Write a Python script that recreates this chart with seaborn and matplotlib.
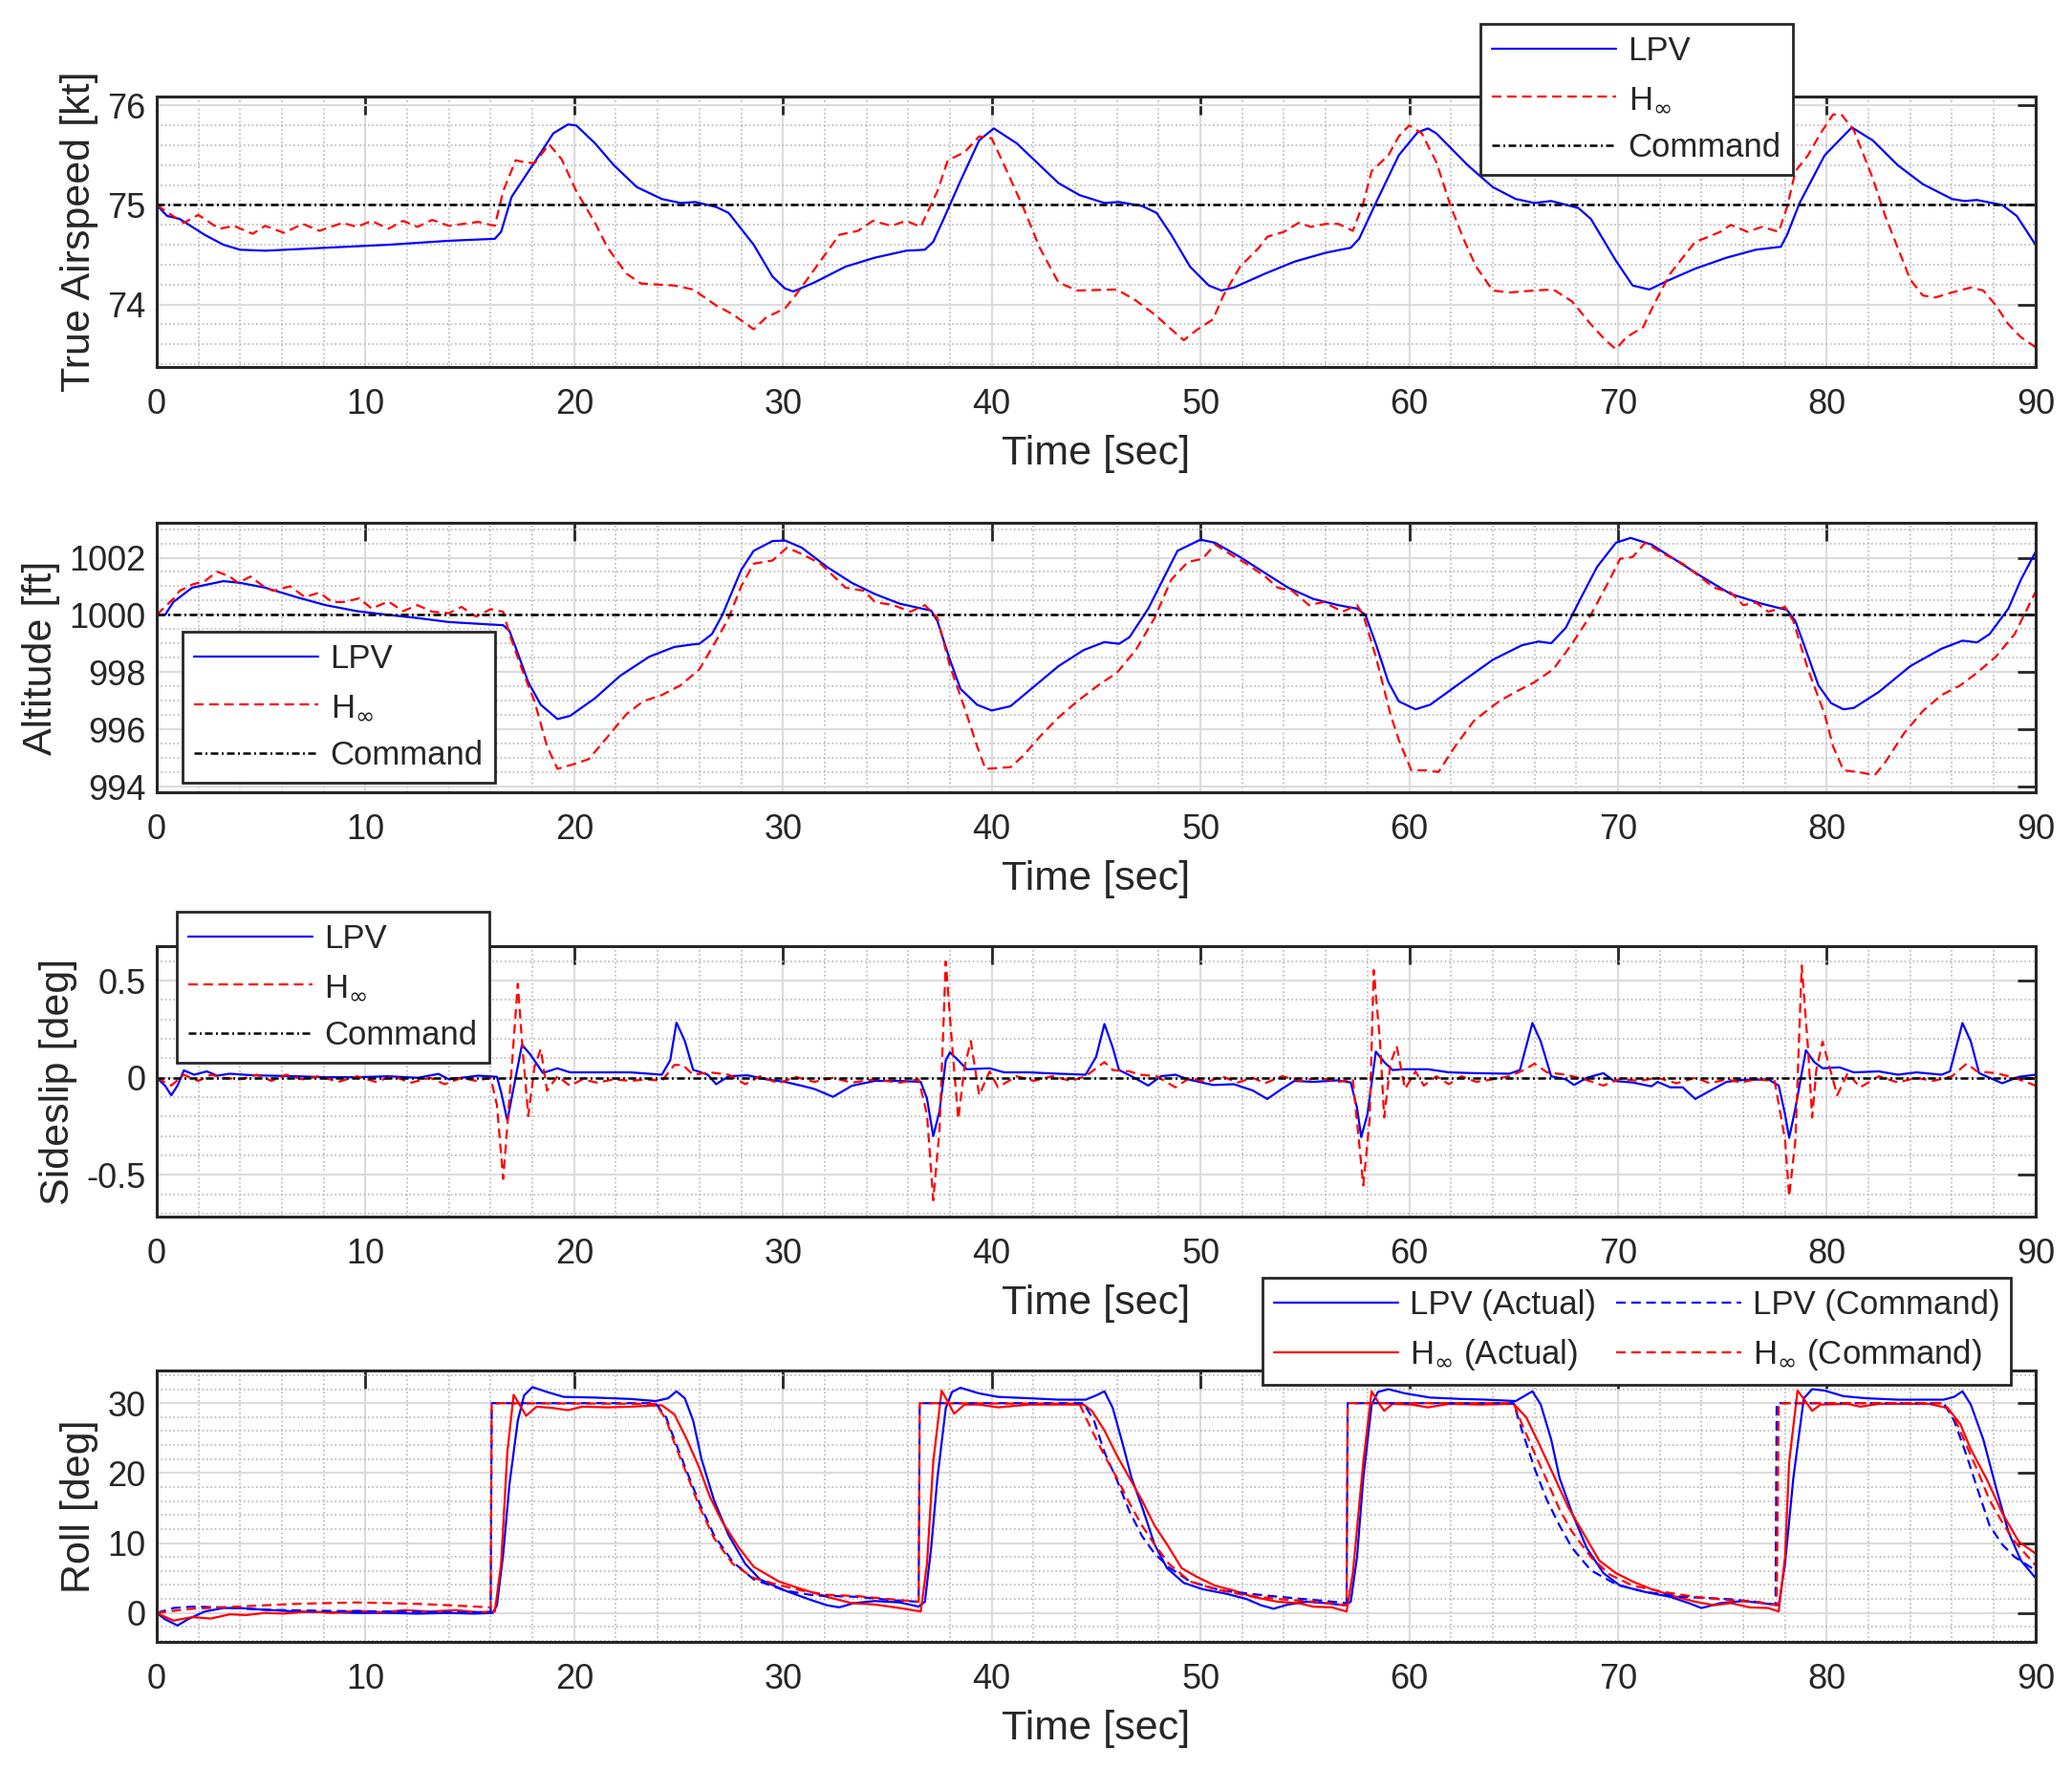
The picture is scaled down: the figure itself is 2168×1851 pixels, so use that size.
import seaborn as sns
import matplotlib.pyplot as plt
import matplotlib.ticker as mticker
import pandas as pd

OUTPUT_FILE_NAME = "out.png"

TIME_TICKS = list(range(0, 91, 10))
HINF = r"H$_{\infty}$"

### Data (time [s], value) ###
# True airspeed [kt]
TAS_COMMAND = [(0, 75.0), (90, 75.0)]
TAS_LPV = [
    (0, 75.0), (0.5, 74.89), (1.1, 74.86), (2.3, 74.70), (3.2, 74.60), (4.0, 74.55), (5.2, 74.54),
    (8.1, 74.57), (11.1, 74.60), (14.0, 74.64), (16.2, 74.66), (16.5, 74.73), (17.0, 75.08),
    (18.1, 75.43), (19.0, 75.72), (19.7, 75.81), (20.1, 75.80), (21.0, 75.62), (21.9, 75.40),
    (23.0, 75.18), (24.2, 75.06), (25.1, 75.02), (25.8, 75.03), (26.8, 74.98), (27.4, 74.92),
    (28.6, 74.60), (29.5, 74.28), (30.1, 74.16), (30.5, 74.13), (31.5, 74.22), (33.0, 74.38),
    (34.4, 74.47), (35.9, 74.54), (36.8, 74.55), (37.2, 74.63), (37.7, 74.86), (38.5, 75.24),
    (39.4, 75.65), (40.1, 75.77), (41.2, 75.62), (42.3, 75.40), (43.2, 75.22), (44.2, 75.10),
    (45.4, 75.02), (46.1, 75.03), (47.2, 74.99), (47.9, 74.92), (48.6, 74.70), (49.5, 74.38),
    (50.4, 74.19), (51.0, 74.14), (51.6, 74.17), (53.1, 74.31), (54.5, 74.43), (56.0, 74.52),
    (57.2, 74.57), (57.6, 74.66), (58.4, 75.02), (59.5, 75.50), (60.4, 75.73), (60.9, 75.77),
    (61.3, 75.72), (62.8, 75.40), (64.0, 75.18), (65.1, 75.06), (66.0, 75.02), (66.8, 75.04),
    (68.1, 74.97), (68.7, 74.86), (69.9, 74.44), (70.7, 74.19), (71.5, 74.15), (72.5, 74.25),
    (73.7, 74.36), (75.2, 74.47), (76.6, 74.55), (77.8, 74.58), (78.1, 74.70), (78.7, 75.02),
    (79.9, 75.50), (81.2, 75.78), (82.2, 75.65), (83.4, 75.40), (84.6, 75.21), (86.0, 75.06),
    (86.6, 75.04), (87.2, 75.05), (88.4, 75.00), (89.1, 74.89), (90.0, 74.60),
]
TAS_HINF = [
    (0, 75.0), (0.7, 74.90), (1.3, 74.82), (2.0, 74.90), (3.0, 74.76), (3.7, 74.79), (4.6, 74.71),
    (5.2, 74.79), (6.1, 74.72), (7.0, 74.81), (7.8, 74.74), (8.9, 74.82), (9.6, 74.78), (10.3, 74.84),
    (11.1, 74.76), (11.8, 74.84), (12.5, 74.78), (13.2, 74.85), (14.0, 74.79), (15.4, 74.83),
    (16.2, 74.79), (16.6, 75.14), (17.2, 75.45), (17.6, 75.43), (18.1, 75.42), (18.8, 75.61),
    (19.4, 75.46), (20.1, 75.14), (21.0, 74.82), (21.6, 74.57), (22.5, 74.31), (23.2, 74.21),
    (24.8, 74.19), (25.7, 74.15), (26.8, 73.99), (27.6, 73.90), (28.6, 73.75), (29.2, 73.87),
    (30.1, 73.96), (30.6, 74.09), (31.5, 74.35), (32.7, 74.70), (33.6, 74.74), (34.3, 74.84),
    (35.2, 74.79), (35.9, 74.84), (36.6, 74.78), (37.4, 75.14), (37.9, 75.45), (38.7, 75.53),
    (39.4, 75.69), (40.0, 75.67), (40.6, 75.40), (41.5, 74.98), (42.3, 74.57), (43.2, 74.22),
    (44.1, 74.14), (46.0, 74.15), (46.9, 74.04), (47.8, 73.90), (48.6, 73.75), (49.2, 73.64),
    (49.8, 73.74), (50.6, 73.85), (51.1, 74.09), (51.9, 74.38), (52.8, 74.57), (53.2, 74.68),
    (54.0, 74.73), (54.7, 74.82), (55.3, 74.78), (56.0, 74.81), (56.6, 74.81), (57.3, 74.74),
    (57.8, 75.02), (58.2, 75.34), (59.0, 75.50), (59.5, 75.69), (60.0, 75.80), (60.6, 75.72),
    (61.3, 75.43), (62.0, 74.98), (62.6, 74.66), (63.2, 74.38), (64.0, 74.14), (64.8, 74.12),
    (66.0, 74.14), (66.9, 74.15), (67.8, 74.03), (68.7, 73.80), (69.4, 73.64), (69.9, 73.55),
    (70.4, 73.67), (71.2, 73.77), (71.7, 73.99), (72.5, 74.31), (73.7, 74.63), (74.1, 74.66),
    (74.9, 74.73), (75.4, 74.80), (76.2, 74.73), (76.9, 74.78), (77.7, 74.73), (78.1, 74.98),
    (78.5, 75.34), (79.1, 75.50), (79.7, 75.72), (80.3, 75.91), (80.7, 75.91), (81.3, 75.75),
    (82.2, 75.27), (82.8, 74.89), (83.4, 74.57), (84.0, 74.25), (84.6, 74.09), (85.2, 74.07),
    (86.0, 74.12), (86.9, 74.17), (87.5, 74.14), (88.1, 73.99), (88.7, 73.80), (89.3, 73.67),
    (90.0, 73.57),
]

# Altitude [ft]
ALT_COMMAND = [(0, 1000.0), (90, 1000.0)]
ALT_LPV = [
    (0, 1000.0), (0.4, 1000.0), (0.8, 1000.45), (1.7, 1000.95), (3.2, 1001.18), (4.0, 1001.12),
    (5.2, 1000.95), (6.7, 1000.62), (8.1, 1000.34), (9.6, 1000.13), (11.1, 1000.0), (12.5, 999.89),
    (14.0, 999.75), (15.4, 999.69), (16.6, 999.64), (16.9, 999.44), (17.3, 998.66), (17.8, 997.65),
    (18.4, 996.86), (19.2, 996.36), (19.8, 996.47), (21.0, 997.09), (22.2, 997.87), (23.6, 998.54),
    (24.8, 998.88), (25.7, 998.97), (26.0, 998.99), (26.6, 999.33), (27.1, 1000.0), (28.0, 1001.57),
    (28.6, 1002.24), (29.5, 1002.58), (30.1, 1002.6), (30.9, 1002.35), (32.1, 1001.68),
    (33.3, 1001.12), (34.4, 1000.73), (35.6, 1000.39), (37.1, 1000.15), (37.4, 999.78),
    (38.0, 998.43), (38.5, 997.42), (39.3, 996.86), (40.0, 996.66), (40.9, 996.81), (42.1, 997.54),
    (43.2, 998.21), (44.4, 998.77), (45.4, 999.05), (46.1, 998.99), (46.6, 999.22), (47.5, 1000.22),
    (48.2, 1001.23), (48.9, 1002.24), (50.0, 1002.63), (50.7, 1002.52), (51.9, 1002.02),
    (53.1, 1001.46), (54.2, 1000.95), (55.4, 1000.56), (56.6, 1000.34), (57.5, 1000.22),
    (57.9, 1000.0), (58.4, 998.99), (59.0, 997.65), (59.5, 996.98), (60.3, 996.7), (61.0, 996.86),
    (62.5, 997.65), (64.0, 998.43), (65.4, 998.94), (66.2, 999.07), (66.8, 999.01), (67.5, 999.55),
    (68.2, 1000.56), (69.0, 1001.68), (69.9, 1002.52), (70.6, 1002.69), (71.6, 1002.46),
    (72.8, 1001.9), (74.0, 1001.34), (75.4, 1000.73), (76.9, 1000.39), (78.1, 1000.17),
    (78.5, 999.78), (79.0, 998.77), (79.6, 997.54), (80.2, 996.92), (80.8, 996.7), (81.3, 996.75),
    (82.5, 997.31), (84.0, 998.21), (85.5, 998.82), (86.5, 999.1), (87.2, 999.04), (87.8, 999.33),
    (88.7, 1000.22), (89.3, 1001.23), (90.0, 1002.2),
]
ALT_HINF = [
    (0, 1000.0), (0.8, 1000.56), (1.1, 1000.84), (1.7, 1001.06), (2.3, 1001.18), (2.9, 1001.51),
    (3.5, 1001.34), (3.9, 1001.12), (4.5, 1001.34), (5.2, 1000.95), (5.6, 1000.84), (6.4, 1001.0),
    (7.1, 1000.62), (7.8, 1000.78), (8.4, 1000.45), (9.0, 1000.45), (9.7, 1000.58), (10.3, 1000.22),
    (11.1, 1000.47), (11.8, 1000.13), (12.5, 1000.34), (13.2, 1000.11), (14.0, 1000.06),
    (14.6, 1000.28), (15.3, 999.94), (16.0, 1000.2), (16.6, 1000.11), (16.9, 999.33), (17.5, 998.1),
    (18.1, 996.98), (18.7, 995.41), (19.2, 994.62), (20.0, 994.79), (20.7, 994.96), (21.6, 995.74),
    (22.5, 996.53), (23.3, 996.98), (24.2, 997.2), (25.1, 997.54), (26.0, 998.1), (26.8, 999.1),
    (27.4, 999.89), (28.0, 1001.0), (28.6, 1001.79), (29.5, 1001.9), (30.2, 1002.35),
    (30.9, 1002.13), (31.8, 1001.79), (33.0, 1000.95), (33.9, 1000.84), (34.4, 1000.45),
    (35.3, 1000.34), (36.1, 1000.11), (36.8, 1000.34), (37.4, 999.89), (38.0, 998.21),
    (38.7, 996.75), (39.3, 995.41), (39.7, 994.62), (40.9, 994.68), (41.5, 995.07), (42.3, 995.74),
    (43.2, 996.42), (44.1, 996.98), (45.1, 997.54), (46.0, 997.98), (46.9, 998.77), (47.8, 999.89),
    (48.6, 1001.23), (49.4, 1001.85), (50.1, 1001.96), (50.7, 1002.46), (51.4, 1002.13),
    (52.2, 1001.79), (53.1, 1001.34), (53.7, 1000.95), (54.4, 1000.84), (55.2, 1000.34),
    (55.9, 1000.45), (56.8, 1000.11), (57.5, 1000.34), (57.8, 1000.0), (58.4, 998.54),
    (59.1, 996.53), (59.5, 995.63), (60.1, 994.57), (60.8, 994.57), (61.4, 994.51), (62.2, 995.41),
    (63.1, 996.3), (64.3, 996.98), (65.1, 997.31), (66.0, 997.65), (66.9, 998.1), (67.8, 998.99),
    (68.7, 1000.0), (69.6, 1001.23), (70.1, 1001.96), (70.7, 1002.02), (71.3, 1002.52),
    (72.2, 1002.13), (73.1, 1001.79), (74.0, 1001.29), (74.6, 1000.95), (75.4, 1000.78),
    (76.0, 1000.34), (76.6, 1000.43), (77.2, 1000.11), (78.0, 1000.28), (78.4, 999.78),
    (79.1, 998.1), (79.9, 996.53), (80.3, 995.41), (80.8, 994.57), (81.5, 994.51), (82.3, 994.4),
    (82.8, 994.85), (83.7, 995.86), (84.6, 996.64), (85.5, 997.2), (86.4, 997.54), (87.2, 997.98),
    (88.1, 998.54), (89.0, 999.33), (90.0, 1000.8),
]

# Sideslip [deg]
BETA_COMMAND = [(0, 0.0), (90, 0.0)]
BETA_LPV = [
    (0, 0.0), (0.4, -0.04), (0.7, -0.09), (1.0, -0.04), (1.3, 0.038), (1.8, 0.016), (2.4, 0.033),
    (2.9, 0.011), (3.5, 0.021), (4.6, 0.013), (6.7, 0.008), (8.1, 0.003), (9.6, 0.003), (11.1, 0.008),
    (12.5, 0.0), (13.5, 0.02), (14.0, -0.008), (15.4, 0.011), (16.3, 0.005), (16.5, -0.074),
    (16.8, -0.22), (17.0, -0.107), (17.5, 0.17), (17.9, 0.12), (18.5, 0.025), (19.2, 0.049),
    (19.8, 0.028), (21.3, 0.028), (22.7, 0.028), (24.2, 0.016), (24.6, 0.09), (24.9, 0.284),
    (25.3, 0.19), (25.7, 0.041), (26.4, 0.016), (26.8, -0.033), (27.4, 0.008), (28.3, 0.013),
    (29.2, -0.008), (30.1, -0.021), (30.9, -0.041), (31.5, -0.057), (32.4, -0.098), (33.3, -0.041),
    (34.4, -0.016), (35.6, -0.016), (36.6, -0.021), (36.9, -0.107), (37.2, -0.30), (37.5, -0.172),
    (37.8, 0.09), (38.0, 0.131), (38.4, 0.09), (38.8, 0.044), (39.9, 0.049), (40.6, 0.028),
    (41.8, 0.028), (43.2, 0.021), (44.5, 0.016), (45.0, 0.107), (45.4, 0.277), (45.8, 0.155),
    (46.1, 0.04), (46.7, 0.008), (47.5, -0.04), (48.1, 0.008), (48.8, 0.016), (49.4, -0.008),
    (50.6, -0.037), (51.6, -0.033), (52.5, -0.065), (53.2, -0.109), (53.9, -0.057), (54.5, -0.016),
    (55.4, -0.021), (56.6, -0.013), (57.2, -0.024), (57.5, -0.155), (57.7, -0.305), (58.0, -0.187),
    (58.4, 0.135), (58.8, 0.081), (59.2, 0.04), (59.8, 0.044), (60.9, 0.044), (61.9, 0.028),
    (63.1, 0.024), (64.8, 0.021), (65.3, 0.04), (65.9, 0.282), (66.3, 0.187), (66.8, 0.008),
    (67.5, -0.008), (67.9, -0.037), (68.5, 0.0), (69.3, 0.024), (69.8, -0.016), (70.7, -0.024),
    (71.6, -0.044), (71.9, -0.021), (72.5, -0.049), (73.1, -0.049), (73.7, -0.109), (74.3, -0.073),
    (75.2, -0.021), (76.0, -0.011), (77.2, -0.008), (77.7, -0.04), (78.0, -0.187), (78.2, -0.309),
    (78.5, -0.155), (79.0, 0.142), (79.4, 0.081), (79.8, 0.049), (80.6, 0.054), (81.3, 0.028),
    (82.5, 0.033), (83.4, 0.016), (84.3, 0.028), (85.5, 0.016), (85.9, 0.033), (86.5, 0.282),
    (86.9, 0.187), (87.3, 0.024), (87.8, 0.0), (88.4, -0.028), (89.2, 0.005), (90.0, 0.016),
]
BETA_HINF = [
    (0, 0.0), (0.7, -0.04), (1.3, 0.016), (2.0, -0.016), (2.6, 0.016), (3.2, 0.0), (4.0, -0.008),
    (4.8, 0.016), (5.5, -0.016), (6.2, 0.016), (7.0, -0.008), (7.8, 0.008), (8.7, -0.021),
    (9.6, 0.008), (10.5, -0.021), (11.3, 0.008), (12.2, -0.025), (13.1, 0.0), (13.8, -0.033),
    (14.6, 0.0), (15.3, -0.016), (16.0, 0.0), (16.3, -0.14), (16.6, -0.52), (16.9, -0.107),
    (17.3, 0.484), (17.5, 0.19), (17.8, -0.197), (18.1, 0.057), (18.4, 0.148), (18.7, -0.066),
    (19.2, 0.008), (19.8, -0.041), (20.4, -0.008), (21.1, -0.025), (21.9, -0.008), (22.7, -0.016),
    (23.5, -0.008), (24.2, -0.016), (24.8, 0.066), (25.2, 0.066), (25.7, 0.016), (26.5, 0.028),
    (27.4, 0.016), (28.2, -0.033), (28.9, 0.008), (29.8, -0.028), (30.6, 0.005), (31.5, -0.021),
    (32.4, 0.0), (33.3, -0.025), (34.4, -0.008), (35.6, -0.025), (36.5, -0.008), (36.9, -0.189),
    (37.2, -0.63), (37.5, -0.27), (37.8, 0.598), (38.1, 0.172), (38.4, -0.213), (38.7, 0.057),
    (39.0, 0.189), (39.4, -0.09), (39.9, 0.033), (40.3, -0.049), (41.2, 0.008), (42.0, -0.016),
    (42.9, 0.008), (43.8, -0.016), (44.5, 0.008), (45.4, 0.081), (45.8, 0.04), (46.6, 0.033),
    (47.1, 0.016), (47.9, 0.008), (48.8, -0.049), (49.5, 0.0), (50.3, -0.024), (51.0, 0.008),
    (51.8, -0.024), (52.5, 0.0), (53.1, -0.028), (53.9, 0.008), (54.8, -0.016), (55.7, 0.0),
    (56.6, -0.021), (57.3, -0.008), (57.6, -0.334), (57.8, -0.554), (58.1, -0.22), (58.3, 0.554),
    (58.6, 0.187), (58.8, -0.204), (59.1, 0.073), (59.4, 0.163), (59.8, -0.057), (60.3, 0.033),
    (60.7, -0.04), (61.3, 0.008), (61.9, -0.033), (62.5, 0.008), (63.2, -0.021), (64.0, -0.008),
    (64.8, 0.008), (65.5, 0.04), (66.0, 0.073), (66.6, 0.028), (67.5, 0.016), (68.4, -0.008),
    (69.3, -0.04), (70.1, -0.005), (71.0, -0.016), (71.9, 0.0), (72.8, -0.028), (73.7, 0.0),
    (74.4, -0.028), (75.2, -0.008), (75.9, -0.024), (76.6, -0.008), (77.5, -0.016), (78.0, -0.318),
    (78.2, -0.611), (78.5, -0.318), (78.8, 0.578), (79.1, 0.155), (79.3, -0.204), (79.5, 0.04),
    (79.8, 0.187), (80.5, -0.09), (81.0, 0.024), (81.6, -0.049), (82.5, 0.008), (83.4, -0.024),
    (84.3, 0.0), (85.1, -0.016), (86.0, 0.008), (86.7, 0.073), (87.2, 0.033), (88.1, 0.024),
    (89.0, 0.0), (90.0, -0.04),
]

# Roll [deg]
ROLL_LPV = [
    (0, 0.0), (0.4, -0.9), (1.0, -1.8), (1.5, -0.9), (2.3, 0.2), (3.2, 0.7), (4.0, 0.7), (5.2, 0.45),
    (6.7, 0.2), (8.1, 0.1), (9.6, 0.0), (11.1, 0.0), (12.5, -0.1), (14.0, 0.0), (15.2, -0.1),
    (16.1, 0.0), (16.3, 1.1), (16.6, 8.4), (16.9, 18.4), (17.3, 27.5), (17.6, 31.1), (18.0, 32.3),
    (18.7, 31.6), (19.5, 30.9), (21.0, 30.8), (22.7, 30.6), (23.9, 30.3), (24.5, 30.7), (24.9, 31.7),
    (25.3, 30.7), (25.7, 27.5), (26.1, 22.0), (26.7, 16.1), (27.4, 11.1), (28.2, 7.0), (28.9, 4.8),
    (30.1, 3.2), (31.2, 2.0), (32.1, 1.1), (32.7, 0.8), (33.4, 1.4), (34.4, 1.7), (35.6, 1.5),
    (36.5, 0.9), (36.8, 1.6), (37.1, 9.3), (37.4, 19.3), (37.8, 29.3), (38.1, 31.6), (38.5, 32.2),
    (39.4, 31.4), (40.3, 30.9), (41.8, 30.7), (43.2, 30.5), (44.5, 30.5), (45.0, 31.1), (45.4, 31.7),
    (45.8, 29.3), (46.3, 23.9), (46.7, 19.3), (47.2, 15.2), (47.8, 9.8), (48.4, 6.4), (49.2, 4.3),
    (50.1, 3.4), (51.3, 2.7), (52.2, 2.0), (52.9, 1.1), (53.5, 0.6), (54.2, 1.2), (55.1, 1.6),
    (56.0, 1.4), (56.9, 1.1), (57.2, 1.6), (57.5, 8.0), (57.8, 19.3), (58.2, 29.8), (58.5, 31.6),
    (59.0, 32.0), (59.8, 31.4), (61.0, 30.8), (62.5, 30.6), (63.7, 30.5), (65.1, 30.3), (65.9, 31.7),
    (66.3, 29.8), (66.8, 24.8), (67.2, 19.3), (67.8, 14.3), (68.5, 9.3), (69.3, 5.7), (70.1, 3.9),
    (71.3, 3.0), (72.5, 2.3), (73.4, 1.4), (74.0, 0.7), (74.9, 1.4), (76.0, 1.7), (76.9, 1.4),
    (77.7, 1.1), (78.0, 7.0), (78.4, 19.3), (78.9, 30.7), (79.3, 32.0), (79.9, 31.8), (80.8, 31.0),
    (81.9, 30.7), (83.4, 30.5), (85.6, 30.5), (86.1, 30.9), (86.5, 31.7), (86.9, 29.8), (87.5, 24.8),
    (88.1, 18.0), (88.7, 11.6), (89.3, 7.5), (90.0, 5.0),
]
ROLL_LPV_CMD = [
    (0, 0.0), (0.8, 0.7), (1.7, 0.9), (3.2, 0.8), (5.2, 0.45), (8.1, 0.3), (11.1, 0.2), (14.0, 0.1),
    (16.0, 0.1), (16.05, 30.0), (23.9, 30.0), (24.4, 28.0), (24.8, 24.8), (25.4, 20.2), (26.0, 15.7),
    (26.7, 11.1), (27.6, 7.3), (28.6, 4.8), (30.1, 3.2), (31.5, 2.5), (33.6, 2.3), (35.3, 1.8),
    (36.5, 1.6), (36.55, 30.0), (44.4, 30.0), (44.9, 27.5), (45.4, 23.0), (46.0, 19.0), (46.6, 14.5),
    (47.2, 11.0), (47.8, 8.5), (48.5, 6.5), (49.5, 4.5), (51.0, 3.2), (53.1, 2.5), (54.5, 2.1),
    (56.0, 1.7), (57.0, 1.4), (57.05, 30.0), (65.0, 30.0), (65.4, 26.1), (66.0, 20.7), (66.6, 16.1),
    (67.2, 12.5), (67.8, 9.3), (68.7, 6.1), (69.9, 4.1), (71.3, 3.0), (73.1, 2.3), (75.2, 2.0),
    (76.6, 1.6), (77.55, 1.2), (77.6, 30.0), (85.6, 30.0), (86.1, 27.5), (86.7, 22.5), (87.3, 17.0),
    (87.8, 12.5), (88.4, 9.8), (89.0, 8.0), (90.0, 6.1),
]
ROLL_HINF = [
    (0, 0.0), (0.8, -1.1), (1.7, -0.6), (2.6, -0.8), (3.5, -0.2), (4.3, -0.3), (5.2, 0.0), (6.1, -0.1),
    (7.3, 0.2), (8.4, 0.0), (9.6, 0.3), (10.8, 0.1), (11.9, 0.4), (13.1, 0.2), (14.3, 0.4), (15.4, 0.1),
    (16.2, 0.2), (16.5, 7.0), (16.8, 23.0), (17.1, 31.2), (17.3, 30.2), (17.7, 28.2), (18.2, 29.5),
    (19.0, 29.3), (19.7, 29.0), (20.4, 29.5), (21.6, 29.4), (22.7, 29.5), (24.2, 29.7), (24.8, 28.4),
    (25.4, 24.8), (26.0, 20.7), (26.5, 16.6), (27.1, 13.0), (27.9, 9.3), (28.6, 6.6), (29.8, 4.5),
    (30.9, 3.4), (32.1, 2.3), (33.3, 1.4), (34.4, 1.2), (35.6, 0.7), (36.6, 0.2), (36.9, 7.0),
    (37.2, 21.6), (37.6, 31.8), (37.9, 30.2), (38.2, 28.5), (38.7, 29.8), (39.4, 29.8), (40.3, 29.4),
    (41.8, 29.8), (43.2, 29.8), (44.4, 29.8), (44.8, 28.9), (45.4, 26.1), (46.0, 22.5), (46.6, 19.3),
    (47.2, 16.1), (47.8, 12.5), (48.4, 9.8), (49.1, 6.4), (49.8, 5.2), (50.7, 3.9), (51.6, 3.2),
    (52.5, 2.3), (53.7, 1.6), (54.7, 1.4), (55.4, 0.9), (56.3, 0.8), (57.0, 0.2), (57.3, 5.7),
    (57.8, 21.6), (58.2, 31.7), (58.5, 30.2), (58.8, 28.9), (59.2, 29.9), (60.1, 29.8), (60.9, 29.4),
    (61.9, 29.9), (63.4, 29.8), (65.0, 29.9), (65.6, 28.0), (66.2, 24.3), (66.9, 19.8), (67.6, 15.2),
    (68.4, 11.1), (69.1, 7.5), (69.9, 5.7), (70.7, 4.5), (71.6, 3.4), (72.8, 2.3), (73.7, 1.6),
    (74.6, 1.1), (75.4, 1.4), (76.3, 0.8), (77.2, 0.7), (77.7, 0.2), (78.0, 8.0), (78.2, 21.6),
    (78.6, 31.8), (79.0, 30.2), (79.3, 28.9), (79.7, 29.8), (81.0, 29.9), (81.6, 29.5), (82.5, 29.9),
    (84.9, 29.9), (85.8, 29.3), (86.4, 27.0), (86.9, 23.4), (87.7, 18.9), (88.4, 14.3), (89.2, 10.2),
    (90.0, 8.5),
]
ROLL_HINF_CMD = [
    (0, 0.0), (0.8, 0.3), (1.7, 0.6), (3.2, 0.8), (5.2, 1.1), (6.7, 1.3), (8.1, 1.4), (9.6, 1.5),
    (11.1, 1.4), (12.5, 1.3), (14.0, 1.1), (15.3, 0.9), (16.0, 0.8), (16.05, 30.0), (23.9, 29.9),
    (24.4, 27.7), (24.8, 24.3), (25.4, 19.8), (26.0, 15.2), (26.7, 10.7), (27.6, 7.0), (28.6, 5.0),
    (29.8, 4.0), (30.9, 3.2), (32.1, 2.6), (33.6, 2.4), (35.0, 2.0), (36.5, 1.6), (36.55, 30.0),
    (44.2, 29.9), (44.8, 26.1), (45.4, 22.5), (46.0, 19.3), (46.6, 15.7), (47.2, 12.5), (47.8, 9.8),
    (48.5, 7.0), (49.5, 4.5), (50.7, 3.4), (52.2, 2.5), (53.7, 2.0), (55.4, 1.6), (57.0, 1.1),
    (57.05, 30.0), (65.0, 30.0), (65.4, 27.0), (66.0, 22.9), (66.6, 18.9), (67.2, 14.8), (67.8, 11.6),
    (68.7, 8.0), (69.6, 5.5), (70.7, 3.9), (72.2, 3.0), (73.7, 2.3), (75.4, 1.8), (76.6, 1.6),
    (77.6, 1.1), (77.7, 30.0), (85.6, 30.0), (86.1, 28.0), (86.7, 23.9), (87.3, 19.8), (87.8, 16.1),
    (88.4, 13.0), (89.0, 10.2), (90.0, 6.8),
]

### Styles ###
TEXT_COLOR = "#262626"
DASHED = (0, (4.5, 2.6))
DASHDOT = (0, (3.2, 1.4, 0.8, 1.4))
LW = 0.8


def frame(points):
    return pd.DataFrame(points, columns=["time", "value"])


def draw(ax, points, color, ls, label, lw=LW):
    sns.lineplot(data=frame(points), x="time", y="value", ax=ax, color=color,
                 linestyle=ls, linewidth=lw, estimator=None, sort=False, label=label)


def style_axis(ax, ylim, yticks, yminor, ylabel):
    ax.set_xlim(0, 90)
    ax.set_ylim(*ylim)
    ax.set_xticks(TIME_TICKS)
    ax.set_yticks(yticks)
    ax.xaxis.set_minor_locator(mticker.MultipleLocator(2))
    ax.yaxis.set_minor_locator(mticker.MultipleLocator(yminor))
    ax.grid(True, which="major", color="#dcdcdc", linewidth=0.8, linestyle="-")
    ax.grid(True, which="minor", color="#b8b8b8", linewidth=0.6, linestyle=(0, (1, 1.6)))
    ax.set_axisbelow(True)
    ax.tick_params(which="major", direction="in", length=7, width=1.0, top=True, right=True,
                   labelsize=13, color=TEXT_COLOR, labelcolor=TEXT_COLOR)
    ax.tick_params(axis="x", pad=8)
    ax.tick_params(axis="y", pad=4)
    ax.tick_params(which="minor", length=0)
    for spine in ax.spines.values():
        spine.set_color(TEXT_COLOR)
        spine.set_linewidth(1.1)
    ax.set_xlabel("Time [sec]", fontsize=15.5, color=TEXT_COLOR, labelpad=5)
    ax.set_ylabel(ylabel, fontsize=15.5, color=TEXT_COLOR, labelpad=3.5)


def add_legend(ax, fig, anchor, ncol=1):
    handles, labels = ax.get_legend_handles_labels()
    leg = ax.legend(handles, labels, loc="upper left", bbox_to_anchor=anchor,
                    bbox_transform=fig.transFigure, borderaxespad=0, ncol=ncol,
                    fontsize=12.5, frameon=True, fancybox=False, framealpha=1,
                    edgecolor=TEXT_COLOR, handlelength=3.75, handletextpad=0.35,
                    labelspacing=0.5, borderpad=0.35, columnspacing=0.6)
    leg.get_frame().set_linewidth(1.0)
    leg.set_zorder(10)


if __name__ == "__main__":
    sns.set_theme(style="white")
    plt.rcParams["font.family"] = ["Liberation Sans", "DejaVu Sans"]
    plt.rcParams["axes.unicode_minus"] = False

    fig = plt.figure(figsize=(10.84, 9.255), dpi=200)
    left, width = 0.0756, 0.9068
    ax1 = fig.add_axes([left, 0.7925, width, 0.1529])
    ax2 = fig.add_axes([left, 0.5521, width, 0.1524])
    ax3 = fig.add_axes([left, 0.3123, width, 0.1529])
    ax4 = fig.add_axes([left, 0.0719, width, 0.1534])

    # True airspeed
    draw(ax1, TAS_LPV, "blue", "-", "LPV")
    draw(ax1, TAS_HINF, "red", DASHED, HINF)
    draw(ax1, TAS_COMMAND, "black", DASHDOT, "Command", lw=0.9)
    style_axis(ax1, (73.37, 76.09), [74, 75, 76], 0.2, "True Airspeed [kt]")
    add_legend(ax1, fig, (0.7145, 0.9865))

    # Altitude
    draw(ax2, ALT_LPV, "blue", "-", "LPV")
    draw(ax2, ALT_HINF, "red", DASHED, HINF)
    draw(ax2, ALT_COMMAND, "black", DASHDOT, "Command", lw=0.9)
    style_axis(ax2, (993.8, 1003.22), [994, 996, 998, 1000, 1002], 0.5, "Altitude [ft]")
    add_legend(ax2, fig, (0.0881, 0.6429))

    # Sideslip
    draw(ax3, BETA_LPV, "blue", "-", "LPV")
    draw(ax3, BETA_HINF, "red", DASHED, HINF)
    draw(ax3, BETA_COMMAND, "black", DASHDOT, "Command", lw=0.9)
    style_axis(ax3, (-0.714, 0.678), [-0.5, 0, 0.5], 0.1, "Sideslip [deg]")
    ax3.yaxis.set_major_formatter(mticker.FuncFormatter(lambda v, p: f"{v:g}"))
    add_legend(ax3, fig, (0.0853, 0.4846))

    # Roll
    draw(ax4, ROLL_LPV, "blue", "-", "LPV (Actual)")
    draw(ax4, ROLL_HINF, "red", "-", HINF + " (Actual)")
    draw(ax4, ROLL_LPV_CMD, "blue", DASHED, "LPV (Command)")
    draw(ax4, ROLL_HINF_CMD, "red", DASHED, HINF + " (Command)")
    style_axis(ax4, (-4.13, 34.68), [0, 10, 20, 30], 2, "Roll [deg]")
    add_legend(ax4, fig, (0.6093, 0.2777), ncol=2)

    plt.savefig(OUTPUT_FILE_NAME, dpi=200)
